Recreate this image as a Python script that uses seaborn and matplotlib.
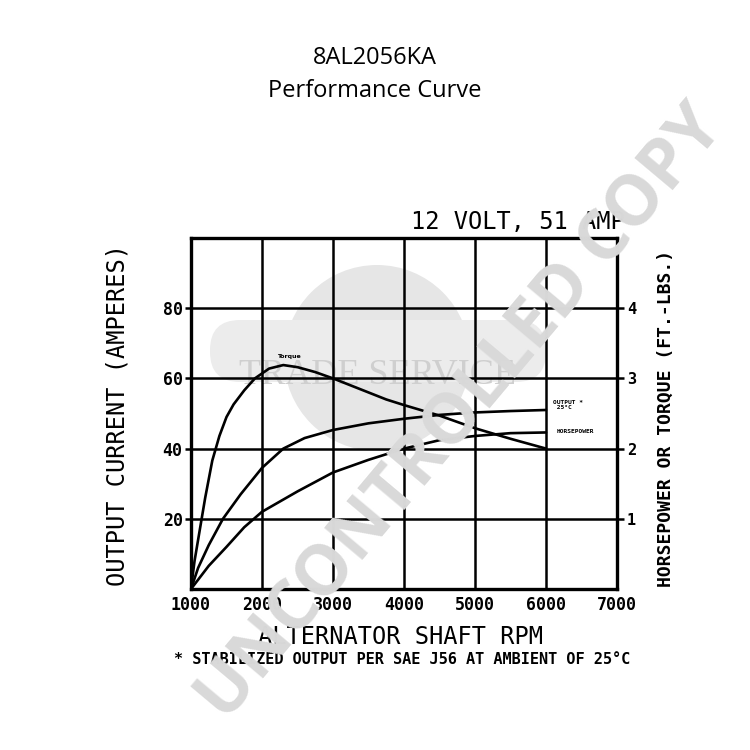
import numpy as np
import pandas as pd
import matplotlib
matplotlib.use("Agg")
import matplotlib.pyplot as plt
from matplotlib.patches import Circle, FancyBboxPatch
import seaborn as sns

# ===== DATA =====
rpm_output = [1000, 1100, 1250, 1450, 1700, 2000, 2300, 2600, 3000, 3500,
              4000, 4500, 5000, 5500, 6000]
output_amps = [0, 6, 12.5, 20, 27, 34.5, 40, 43, 45.3, 47.2,
               48.5, 49.6, 50.3, 50.7, 51]

rpm_torque = [1000, 1050, 1100, 1150, 1200, 1300, 1400, 1500, 1600, 1750,
              1900, 2100, 2300, 2500, 2750, 3000, 3250, 3500, 3750, 4000,
              4500, 5000, 5500, 6000]
torque_ftlb = [0, 0.4, 0.7, 1.0, 1.3, 1.83, 2.18, 2.45, 2.63, 2.83,
               3.0, 3.14, 3.19, 3.16, 3.09, 3.0, 2.9, 2.8, 2.7, 2.62,
               2.47, 2.29, 2.14, 2.0]

rpm_hp = [1000, 1250, 1500, 1750, 2000, 2500, 3000, 3500, 4000, 4500,
          5000, 5500, 6000]
horsepower = [0, 0.33, 0.6, 0.88, 1.1, 1.39, 1.66, 1.84, 2.0, 2.12,
              2.18, 2.22, 2.23]

x_ticks = [1000, 2000, 3000, 4000, 5000, 6000, 7000]
amp_ticks = [20, 40, 60, 80]
right_ticks = [1, 2, 3, 4]

df_out = pd.DataFrame({"rpm": rpm_output, "val": output_amps})
df_tq = pd.DataFrame({"rpm": rpm_torque, "val": torque_ftlb})
df_hp = pd.DataFrame({"rpm": rpm_hp, "val": horsepower})

sns.set_style("white")
plt.rcParams["text.color"] = "black"
plt.rcParams["xtick.color"] = "black"
plt.rcParams["ytick.color"] = "black"
mono = "DejaVu Sans Mono"

fig = plt.figure(figsize=(7.5, 7.5), dpi=100)
fig.patch.set_facecolor("white")

# ---- "Trade Service" logo behind the chart ----
fig.patches.append(Circle((377 / 750, 1 - 358 / 750), 93 / 750, transform=fig.transFigure,
                          facecolor="#e6e6e6", edgecolor="none", zorder=-2))
fig.patches.append(FancyBboxPatch((210 / 750, 1 - 382 / 750), 336 / 750, 62 / 750,
                                  boxstyle="round,pad=0,rounding_size=0.04",
                                  transform=fig.transFigure, facecolor="#ececec",
                                  edgecolor="none", zorder=-2))
fig.text(377 / 750, 1 - 376 / 750, "TRADE SERVICE", ha="center", va="center",
         fontsize=26, family="Liberation Serif", color="#cfcfcf", zorder=-1)

ax = fig.add_axes([191 / 750, 1 - 589 / 750, 426 / 750, 351 / 750])
ax.set_facecolor("none")
ax.set_xlim(1000, 7000)
ax.set_ylim(0, 100)

# grid
for xv in x_ticks[1:-1]:
    ax.axvline(xv, color="black", lw=1.8, zorder=1)
for yv in amp_ticks:
    ax.axhline(yv, color="black", lw=1.8, zorder=1)
for s in ax.spines.values():
    s.set_linewidth(2.4)
    s.set_color("black")

sns.lineplot(data=df_out, x="rpm", y="val", ax=ax, color="black", lw=1.9, zorder=3)

ax.set_xticks(x_ticks)
ax.set_xticklabels([str(v) for v in x_ticks], family=mono, fontweight="bold", fontsize=12)
ax.set_yticks(amp_ticks)
ax.set_yticklabels([str(v) for v in amp_ticks], family=mono, fontweight="bold", fontsize=12)
ax.tick_params(axis="both", length=4, width=1.8, pad=2, direction="out")
ax.tick_params(axis="x", length=0, pad=5)
ax.set_xlabel("")
ax.set_ylabel("")

# right axis: horsepower / torque
ax2 = ax.twinx()
ax2.set_ylim(0, 5)
sns.lineplot(data=df_tq, x="rpm", y="val", ax=ax2, color="black", lw=1.9, zorder=3)
sns.lineplot(data=df_hp, x="rpm", y="val", ax=ax2, color="black", lw=1.9, zorder=3)
ax2.set_xlim(1000, 7000)
ax2.set_yticks(right_ticks)
ax2.set_yticklabels([str(v) for v in right_ticks], family=mono, fontweight="bold", fontsize=11)
ax2.tick_params(axis="y", length=5, width=1.8, pad=2)
ax2.set_ylabel("")
for s in ax2.spines.values():
    s.set_visible(False)

# curve labels
ax2.text(2380, 3.28, "Torque", fontsize=4.5, fontweight="bold", ha="center", va="bottom")
ax.text(6100, 52.5, "OUTPUT *\n 25\u00b0C", fontsize=4.5, fontweight="bold",
        ha="left", va="center", linespacing=1.0, family=mono)
ax.text(6150, 44.8, "HORSEPOWER", fontsize=4.5, fontweight="bold", ha="left",
        va="center", family=mono)

# axis titles and notes
fig.text(118 / 750, 1 - 415 / 750, "OUTPUT CURRENT (AMPERES)", rotation=90,
         ha="center", va="center", family=mono, fontsize=17)
fig.text(666 / 750, 1 - 418 / 750, "HORSEPOWER OR TORQUE (FT.-LBS.)", rotation=90,
         ha="center", va="center", family=mono, fontsize=13, fontweight="bold")
fig.text(400 / 750, 1 - 637 / 750, "ALTERNATOR SHAFT RPM", ha="center", va="center",
         family=mono, fontsize=17)
fig.text(402 / 750, 1 - 660 / 750, "* STABILIZED OUTPUT PER SAE J56 AT AMBIENT OF 25\u00b0C",
         ha="center", va="center", family=mono, fontsize=11, fontweight="bold")
fig.text(625 / 750, 1 - 222 / 750, "12 VOLT, 51 AMP", ha="right", va="center",
         family=mono, fontsize=17)

# page title
fig.text(0.5, 1 - 58 / 750, "8AL2056KA", ha="center", va="center",
         family="Open Sans", fontsize=17)
fig.text(0.5, 1 - 91 / 750, "Performance Curve", ha="center", va="center",
         family="Open Sans", fontsize=17)

# watermark on top
fig.text(462 / 750, 1 - 414 / 750, "UNCONTROLLED COPY", rotation=50,
         rotation_mode="anchor", ha="center", va="center", family="Open Sans",
         fontweight="bold", fontsize=50, color="#d9d9d9", zorder=10)

fig.savefig("out.png", dpi=100, facecolor="white")
